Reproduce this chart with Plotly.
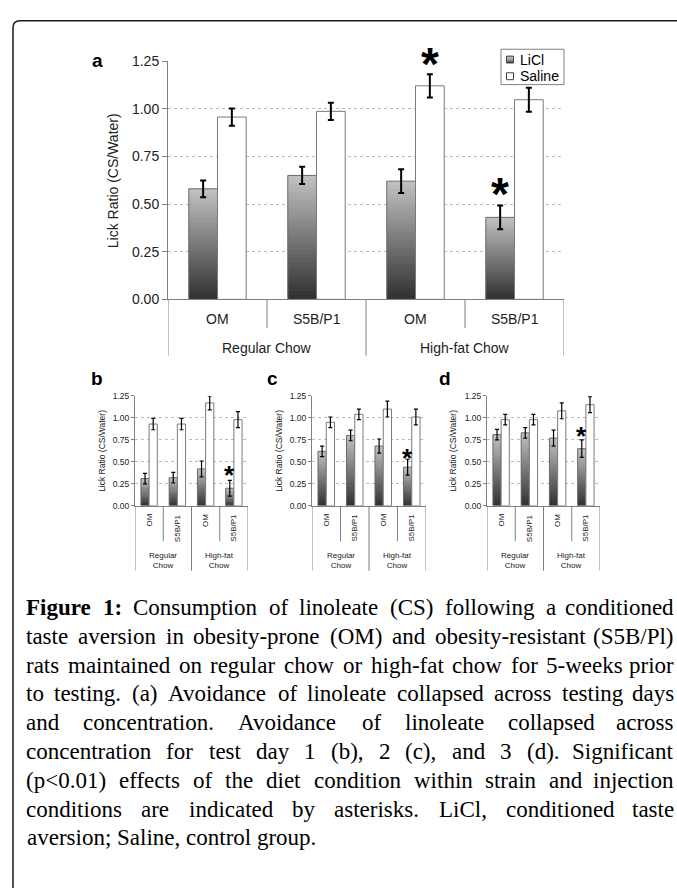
import plotly.graph_objects as go

W, H = 677, 888

# ---------------- data ----------------
strains = ["OM", "S5B/P1", "OM", "S5B/P1"]
diets = ["Regular Chow", "Regular Chow", "High-fat Chow", "High-fat Chow"]
diet_groups = ["Regular Chow", "High-fat Chow"]
diet_groups_short = ["Regular<br>Chow", "High-fat<br>Chow"]
y_ticks = [0.0, 0.25, 0.50, 0.75, 1.00, 1.25]
series_names = ["LiCl", "Saline"]

a_licl = [0.58, 0.65, 0.62, 0.43]
a_licl_err = [0.044, 0.045, 0.062, 0.062]
a_saline = [0.956, 0.986, 1.12, 1.047]
a_saline_err = [0.045, 0.045, 0.061, 0.063]

b_licl = [0.31, 0.32, 0.42, 0.20]
b_licl_err = [0.06, 0.06, 0.09, 0.09]
b_saline = [0.93, 0.93, 1.17, 0.98]
b_saline_err = [0.065, 0.065, 0.08, 0.09]

c_licl = [0.62, 0.80, 0.68, 0.44]
c_licl_err = [0.06, 0.06, 0.08, 0.09]
c_saline = [0.95, 1.04, 1.10, 1.01]
c_saline_err = [0.06, 0.06, 0.09, 0.09]

d_licl = [0.81, 0.83, 0.77, 0.65]
d_licl_err = [0.06, 0.06, 0.09, 0.10]
d_saline = [0.98, 0.98, 1.08, 1.15]
d_saline_err = [0.06, 0.06, 0.09, 0.09]

# significance markers: (series, category index, value)
a_stars = [("Saline", 2, 1.235), ("LiCl", 3, 0.55)]
b_stars = [("Saline", 2, 1.33), ("LiCl", 3, 0.38)]
c_stars = [("LiCl", 3, 0.58)]
d_stars = [("LiCl", 3, 0.83)]

caption_lines = [
    "Figure 1: Consumption of linoleate (CS) following a conditioned",
    "taste aversion in obesity-prone (OM) and obesity-resistant (S5B/Pl)",
    "rats maintained on regular chow or high-fat chow for 5-weeks prior",
    "to testing. (a) Avoidance of linoleate collapsed across testing days",
    "and concentration. Avoidance of linoleate collapsed across",
    "concentration for test day 1 (b), 2 (c), and 3 (d). Significant",
    "(p<0.01) effects of the diet condition within strain and injection",
    "conditions are indicated by asterisks. LiCl, conditioned taste",
    "aversion; Saline, control group.",
]

# ---------------- helpers ----------------
def PX(x):
    return x / W


def PY(y):
    return 1 - y / H


keys = [f"{d}|{s}" for d, s in zip(diets, strains)]
BARGAP = 0.42
OFF = (1 - BARGAP) / 4
SANS = "Liberation Sans, Arial, sans-serif"
SERIF = "Liberation Serif, Times New Roman, serif"
TXT = "#222222"
AX = "#808080"

panels = [
    dict(n="", letter="a", letter_xy=(97, 53), x0=168, x1=564, top=54, bot=296.7,
         licl=a_licl, licl_err=a_licl_err, sal=a_saline, sal_err=a_saline_err, stars=a_stars,
         big=True, tick=14, title=14, title_x=113, cat=14, et=2, ew=3, star=46, star_shift=0,
         inner_bot=326, outer_bot=354, strain_y=317, diet_y=346),
    dict(n="2", letter="b", letter_xy=(97, 377), x0=135, x1=248, top=395, bot=507,
         licl=b_licl, licl_err=b_licl_err, sal=b_saline, sal_err=b_saline_err, stars=b_stars,
         big=False, tick=8.5, title=8.5, title_x=102, cat=8, et=1.2, ew=2, star=26, star_shift=-3,
         inner_bot=543, outer_bot=573, strain_y=513, diet_y=563),
    dict(n="3", letter="c", letter_xy=(272, 377), x0=312, x1=426, top=395, bot=507,
         licl=c_licl, licl_err=c_licl_err, sal=c_saline, sal_err=c_saline_err, stars=c_stars,
         big=False, tick=8.5, title=8.5, title_x=279, cat=8, et=1.2, ew=2, star=26, star_shift=-3,
         inner_bot=543, outer_bot=573, strain_y=513, diet_y=563),
    dict(n="4", letter="d", letter_xy=(445, 377), x0=487, x1=600, top=395, bot=507,
         licl=d_licl, licl_err=d_licl_err, sal=d_saline, sal_err=d_saline_err, stars=d_stars,
         big=False, tick=8.5, title=8.5, title_x=453, cat=8, et=1.2, ew=2, star=26, star_shift=-3,
         inner_bot=543, outer_bot=573, strain_y=513, diet_y=563),
]

NSEG = 30


def shade(t):
    g = int(round(0x30 + (0xC2 - 0x30) * t))
    return f"rgb({g},{g},{g})"


fig = go.Figure()
annotations = []
shapes = []
layout_axes = {}

for p in panels:
    n = p["n"]
    xa, ya = "x" + n, "y" + n
    # gradient LiCl bars as stacked slices
    for k in range(NSEG):
        heights = [min((k + 1.7) / NSEG, 1.0) * v - k * v / NSEG for v in p["licl"]]
        bases = [k * v / NSEG for v in p["licl"]]
        fig.add_trace(go.Bar(
            x=keys, y=heights, base=bases, xaxis=xa, yaxis=ya, offsetgroup="L",
            marker=dict(color=shade((k + 0.5) / NSEG), line=dict(width=0)),
            showlegend=False, hoverinfo="skip"))
    # LiCl outline + error bars
    fig.add_trace(go.Bar(
        x=keys, y=p["licl"], xaxis=xa, yaxis=ya, offsetgroup="L", name=series_names[0],
        marker=dict(color="rgba(0,0,0,0)", line=dict(color="#6a6a6a", width=1)),
        error_y=dict(type="data", array=p["licl_err"], color="black",
                     thickness=p["et"], width=p["ew"]),
        showlegend=False))
    # Saline
    fig.add_trace(go.Bar(
        x=keys, y=p["sal"], xaxis=xa, yaxis=ya, offsetgroup="S", name=series_names[1],
        marker=dict(color="white", line=dict(color="#7a7a7a", width=1)),
        error_y=dict(type="data", array=p["sal_err"], color="black",
                     thickness=p["et"], width=p["ew"]),
        showlegend=False))

    suffix = n
    layout_axes["xaxis" + suffix] = dict(
        domain=[PX(p["x0"]), PX(p["x1"])], type="category", categoryorder="array",
        categoryarray=keys, range=[-0.5, 3.5], showticklabels=False, ticks="",
        showline=True, linecolor=AX, linewidth=1, showgrid=False, zeroline=False,
        anchor=ya, fixedrange=True)
    layout_axes["yaxis" + suffix] = dict(
        domain=[PY(p["bot"]), PY(p["top"])], range=[0, 1.25], tickvals=y_ticks,
        tickformat=".2f", ticks="outside", ticklen=5 if p["big"] else 3, tickcolor=AX,
        showline=True, linecolor=AX, linewidth=1, showgrid=True, gridcolor="#bcbcbc",
        griddash="dot", gridwidth=1, zeroline=False, anchor=xa, fixedrange=True,
        tickfont=dict(family=SANS, size=p["tick"], color=TXT))

    # axis title
    annotations.append(dict(
        text="Lick Ratio (CS/Water)", textangle=-90, xref="paper", yref="paper",
        x=PX(p["title_x"]), y=PY((p["top"] + p["bot"]) / 2), showarrow=False,
        xanchor="center", yanchor="middle", font=dict(family=SANS, size=p["title"], color=TXT)))
    # panel letter
    lx, ly = p["letter_xy"]
    annotations.append(dict(
        text=f"<b>{p['letter']}</b>", xref="paper", yref="paper", x=PX(lx), y=PY(ly),
        showarrow=False, xanchor="center", yanchor="middle",
        font=dict(family=SANS, size=19, color="black")))

    # category dividers
    for pos in [-0.5, 0.5, 1.5, 2.5, 3.5]:
        outer = pos in (-0.5, 1.5, 3.5)
        shapes.append(dict(
            type="line", xref=xa, yref="paper", x0=pos, x1=pos,
            y0=PY(p["bot"]), y1=PY(p["outer_bot"] if outer else p["inner_bot"]),
            line=dict(color=AX, width=1)))

    # strain labels
    for i, s in enumerate(strains):
        if p["big"]:
            annotations.append(dict(
                text=s, xref=xa, yref="paper", x=i, y=PY(p["strain_y"]), showarrow=False,
                xanchor="center", yanchor="middle", font=dict(family=SANS, size=p["cat"], color=TXT)))
        else:
            annotations.append(dict(
                text=s, textangle=-90, xref=xa, yref="paper", x=i, y=PY(p["strain_y"]),
                showarrow=False, xanchor="center", yanchor="top",
                font=dict(family=SANS, size=p["cat"], color=TXT)))
    # diet labels
    for j in range(2):
        annotations.append(dict(
            text=diet_groups[j] if p["big"] else diet_groups_short[j], xref=xa, yref="paper",
            x=2 * j + 0.5, y=PY(p["diet_y"]), showarrow=False, xanchor="center",
            yanchor="middle", font=dict(family=SANS, size=p["cat"], color=TXT)))

    # asterisks
    for ser, idx, val in p["stars"]:
        annotations.append(dict(
            text="<b>*</b>", xref=xa, yref=ya, x=idx + (-OFF if ser == "LiCl" else OFF), y=val,
            showarrow=False, xanchor="center", yanchor="middle", yshift=p["star_shift"],
            font=dict(family=SANS, size=p["star"], color="black")))

# ---------------- legend (panel a) ----------------
shapes.append(dict(type="rect", xref="paper", yref="paper", x0=PX(501), x1=PX(564),
                   y0=PY(42), y1=PY(78), line=dict(color=AX, width=1), fillcolor="white",
                   layer="above"))
for k in range(6):
    shapes.append(dict(type="rect", xref="paper", yref="paper", x0=PX(506.5), x1=PX(513.5),
                       y0=PY(56 - k * 7 / 6), y1=PY(56 - (k + 1) * 7 / 6), line=dict(width=0),
                       fillcolor=shade((k + 0.5) / 6), layer="above"))
shapes.append(dict(type="rect", xref="paper", yref="paper", x0=PX(506.5), x1=PX(513.5),
                   y0=PY(49), y1=PY(56), line=dict(color="#444", width=1), layer="above"))
shapes.append(dict(type="rect", xref="paper", yref="paper", x0=PX(506.5), x1=PX(513.5),
                   y0=PY(66), y1=PY(73), line=dict(color="#444", width=1), fillcolor="white",
                   layer="above"))
for name, yy in zip(series_names, [52.5, 69.5]):
    annotations.append(dict(text=name, xref="paper", yref="paper", x=PX(518), y=PY(yy),
                            showarrow=False, xanchor="left", yanchor="middle",
                            font=dict(family=SANS, size=14, color="black")))

# ---------------- frame ----------------
r = 7
path = (f"M {PX(13)},{PY(900)} L {PX(13)},{PY(13 + r)} Q {PX(13)},{PY(13)} {PX(13 + r)},{PY(13)} "
        f"L {PX(700)},{PY(13)}")
shapes.append(dict(type="path", xref="paper", yref="paper", path=path,
                   line=dict(color="#1a1a1a", width=1.5)))

# ---------------- caption (justified) ----------------
TR = {" ": 250, "(": 333, ")": 333, ",": 250, "-": 333, ".": 250, "/": 278, ":": 278,
      ";": 278, "<": 564, "A": 722, "B": 667, "C": 667, "D": 722, "F": 556, "L": 611,
      "M": 889, "O": 722, "P": 556, "S": 556, "a": 444, "b": 500, "c": 444, "d": 500,
      "e": 444, "f": 333, "g": 500, "h": 500, "i": 278, "j": 278, "k": 500, "l": 278,
      "m": 778, "n": 500, "o": 500, "p": 500, "q": 500, "r": 333, "s": 389, "t": 278,
      "u": 500, "v": 500, "w": 722, "x": 500, "y": 500, "z": 444}
TB = {"F": 611, "i": 278, "g": 500, "u": 556, "r": 444, "e": 444, "1": 500, ":": 333}
CS = 23
LEFT, RIGHT = 25, 675
BASE0, LSTEP = 618.5, 29.3


def wwidth(word, bold):
    tab = TB if bold else TR
    return sum(tab.get(ch, 500) for ch in word) * CS / 1000


def esc(s):
    return s.replace("<", "&lt;")


for li, line in enumerate(caption_lines):
    yc = PY(BASE0 + li * LSTEP - 0.34 * CS)
    fnt = dict(family=SERIF, size=CS, color="black")
    if li == len(caption_lines) - 1:
        annotations.append(dict(text=esc(line), xref="paper", yref="paper", x=PX(LEFT), y=yc,
                                showarrow=False, xanchor="left", yanchor="middle", font=fnt))
        continue
    words = line.split(" ")
    bolds = [li == 0 and wi < 2 for wi in range(len(words))]
    widths = [wwidth(w, b) for w, b in zip(words, bolds)]
    gap = (RIGHT - LEFT - sum(widths)) / (len(words) - 1)
    x = LEFT
    for wi, (w, b, wd) in enumerate(zip(words, bolds, widths)):
        txt = f"<b>{esc(w)}</b>" if b else esc(w)
        if wi == len(words) - 1:
            annotations.append(dict(text=txt, xref="paper", yref="paper", x=PX(RIGHT), y=yc,
                                    showarrow=False, xanchor="right", yanchor="middle",
                                    font=fnt, borderpad=0))
        else:
            annotations.append(dict(text=txt, xref="paper", yref="paper", x=PX(x), y=yc,
                                    showarrow=False, xanchor="left", yanchor="middle",
                                    font=fnt, borderpad=0))
        x += wd + gap

fig.update_layout(
    width=W, height=H, margin=dict(l=0, r=0, t=0, b=0, pad=0),
    paper_bgcolor="white", plot_bgcolor="rgba(0,0,0,0)",
    barmode="group", bargap=BARGAP, bargroupgap=0, showlegend=False,
    annotations=annotations, shapes=shapes, **layout_axes)

fig.write_html("out.html", config={"displayModeBar": False, "staticPlot": True},
               post_script="document.body.style.margin='0px';document.body.style.overflow='hidden';")
